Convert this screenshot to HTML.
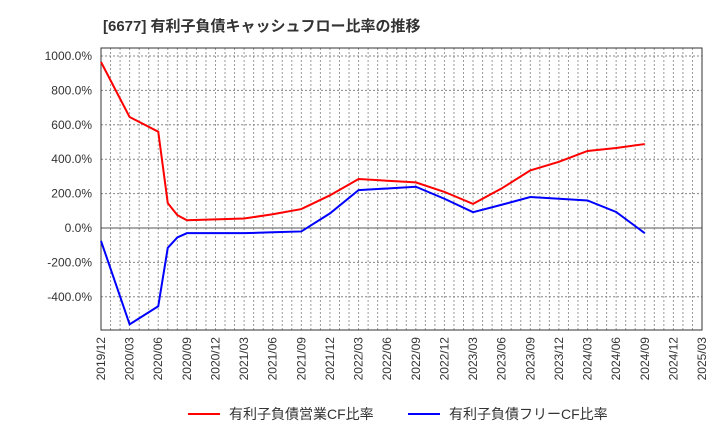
<!DOCTYPE html>
<html><head><meta charset="utf-8"><style>
body{margin:0;background:#fff;font-family:"Liberation Sans","Noto Sans CJK JP",sans-serif}
</style></head><body>
<svg id="chart" width="720" height="440" xmlns="http://www.w3.org/2000/svg">
<text x="103" y="31" font-size="15" font-weight="bold" fill="#333" font-family="Liberation Sans, Noto Sans CJK JP, sans-serif">[6677]  有利子負債キャッシュフロー比率の推移</text>
<g id="grid"></g><g id="axes"></g><g id="series"></g>
<g font-size="14" fill="#333" font-family="Liberation Sans, Noto Sans CJK JP, sans-serif">
<line x1="188" y1="414" x2="220" y2="414" stroke="#f00" stroke-width="2"/>
<text x="229" y="419">有利子負債営業CF比率</text>
<line x1="408" y1="414" x2="440" y2="414" stroke="#00f" stroke-width="2"/>
<text x="449" y="419">有利子負債フリーCF比率</text>
</g>
</svg>
<script>
const xTickLabels=["2019/12","2020/03","2020/06","2020/09","2020/12","2021/03","2021/06","2021/09","2021/12","2022/03","2022/06","2022/09","2022/12","2023/03","2023/06","2023/09","2023/12","2024/03","2024/06","2024/09","2024/12","2025/03"];
const yTicks=[-400,-200,0,200,400,600,800,1000];
const months=[0,3,6,7,8,9,12,15,18,21,24,27,30,33,36,39,42,45,48,51,54,57];
const operatingCF=[965,645,560,145,75,45,50,55,80,110,190,285,275,265,210,140,230,335,385,448,465,488];
const freeCF=[-75,-560,-455,-115,-55,-30,-30,-30,-25,-20,85,220,230,240,170,92,135,180,170,160,93,-30];
const L=101,R=702,T=48,B=330,NM=63;
const X=m=>L+(R-L)*m/NM;
const Y=v=>228-v*0.172;
const NS="http://www.w3.org/2000/svg";
function mk(p,t,a){const e=document.createElementNS(NS,t);for(const k in a)e.setAttribute(k,a[k]);p.appendChild(e);return e;}
const g=document.getElementById('grid'),ax=document.getElementById('axes'),s=document.getElementById('series');
for(let m=1;m<NM;m++){const l=mk(g,'line',{x1:X(m),x2:X(m),y1:T,y2:B,stroke:'#999','stroke-dasharray':'2,2','stroke-width':1});

}
yTicks.forEach(v=>{const l=mk(g,'line',{x1:L,x2:R,y1:Y(v),y2:Y(v),stroke:v===0?'#555':'#888','stroke-dasharray':v===0?'':'2,2','stroke-width':1});


const t=mk(ax,'text',{x:L-9,y:Y(v)+4,'text-anchor':'end','font-size':12,fill:'#333'});t.textContent=v.toFixed(1)+'%';

});
xTickLabels.forEach((lab,i)=>{const x=X(i*3);const t=mk(ax,'text',{x:x+4,y:B+7,'text-anchor':'end','font-size':12,fill:'#333',transform:`rotate(-90 ${x+4} ${B+7})`});t.textContent=lab;

});
const f=mk(ax,'rect',{x:L,y:T,width:R-L,height:B-T,fill:'none',stroke:'#333','stroke-width':1});


[[operatingCF,'#f00','operating-cf-line'],[freeCF,'#00f','free-cf-line']].forEach(([d,c,n])=>{
const p=mk(s,'polyline',{points:d.map((v,i)=>X(months[i])+','+Y(v)).join(' '),fill:'none',stroke:c,'stroke-width':2});

});
</script>
</body></html>
